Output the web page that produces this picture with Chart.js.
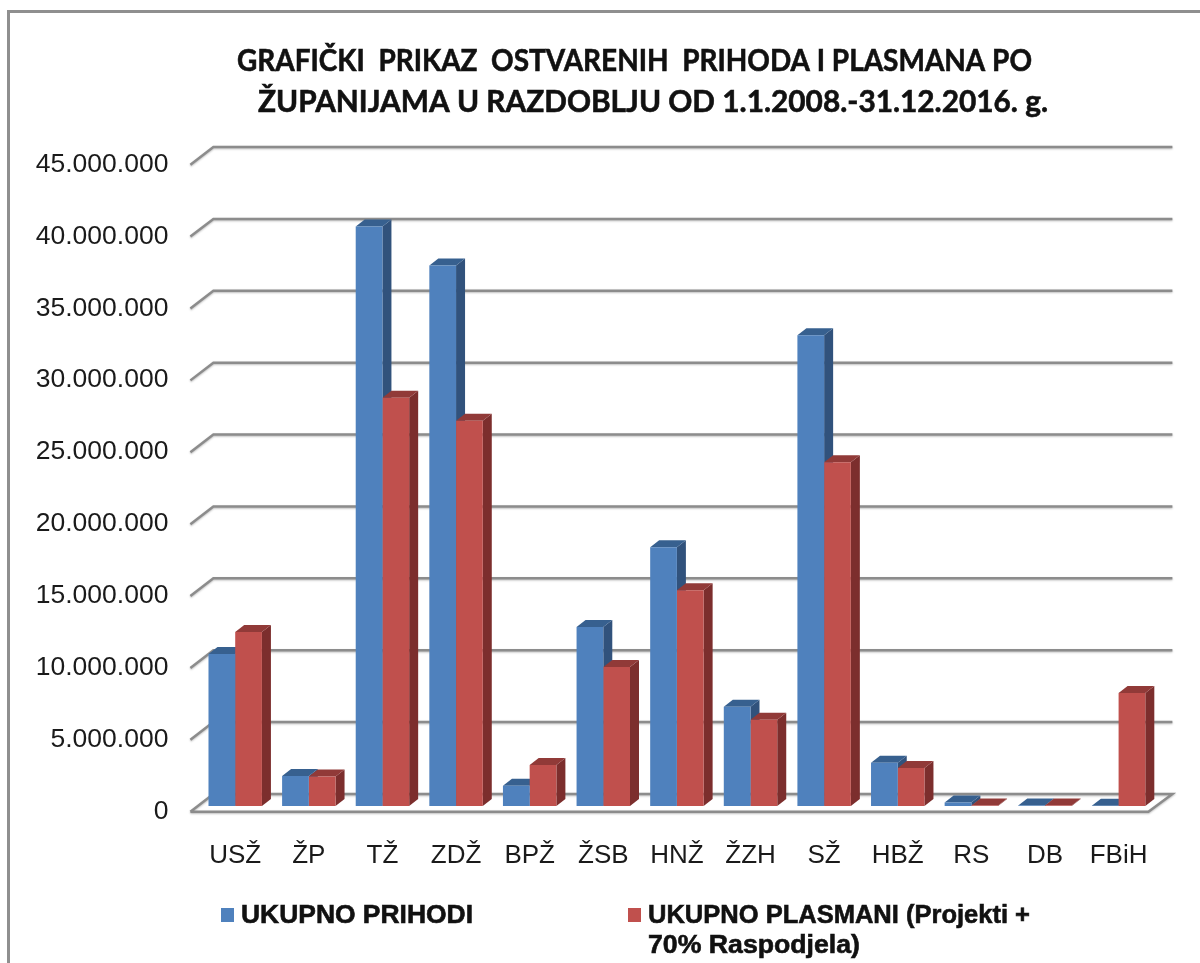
<!DOCTYPE html>
<html>
<head>
<meta charset="utf-8">
<script src="https://cdn.jsdelivr.net/npm/chart.js"></script>
<style>
    html, body { margin: 0; padding: 0; background: #fff; }
    canvas { display: block; }
</style>
</head>
<body>
<canvas id="myChart" width="1200" height="963"></canvas>
<script>
const categories = ['USŽ', 'ŽP', 'TŽ', 'ZDŽ', 'BPŽ', 'ŽSB', 'HNŽ', 'ŽZH', 'SŽ', 'HBŽ', 'RS', 'DB', 'FBiH'];
const prihodi = [10570000, 2090000, 40300000, 37600000, 1400000, 12450000, 18000000, 6900000, 32750000, 3000000, 250000, 30000, 20000];
const plasmani = [12100000, 2050000, 28400000, 26800000, 2850000, 9670000, 15000000, 6000000, 23900000, 2650000, 30000, 30000, 7860000];
const titleLines = ['GRAFIČKI  PRIKAZ  OSTVARENIH  PRIHODA I PLASMANA PO', 'ŽUPANIJAMA U RAZDOBLJU OD 1.1.2008.-31.12.2016. g.'];
const legendPrihodi = ['UKUPNO PRIHODI'];
const legendPlasmani = ['UKUPNO PLASMANI (Projekti +', '70% Raspodjela)'];

const BAR_DX = 9, BAR_DY = 7;

// okvir, naslov i legenda
const decorPlugin = {
    id: 'decor',
    beforeDraw(chart) {
        const ctx = chart.ctx;
        ctx.save();
        ctx.strokeStyle = '#8f8f8f';
        ctx.lineWidth = 3;
        ctx.beginPath();
        ctx.moveTo(8.5, 963);
        ctx.lineTo(8.5, 11.5);
        ctx.lineTo(1200, 11.5);
        ctx.stroke();
        ctx.restore();
    },
    afterDraw(chart) {
        const ctx = chart.ctx;
        ctx.save();
        ctx.fillStyle = '#111';
        ctx.strokeStyle = '#111';
        ctx.lineWidth = 0.6;
        ctx.textBaseline = 'middle';
        ctx.font = 'bold 31px Lato';
        fitText(ctx, titleLines[0], 237, 61, 795);
        fitText(ctx, titleLines[1], 258, 102, 790);

        ctx.font = 'bold 26px "Liberation Sans"';
        ctx.fillStyle = '#4f81bd';
        ctx.fillRect(221, 908, 13, 14);
        ctx.fillStyle = '#c0504d';
        ctx.fillRect(628, 908, 13, 14);
        ctx.fillStyle = '#111';
        fitText(ctx, legendPrihodi[0], 241, 916, 232);
        fitText(ctx, legendPlasmani[0], 648, 916, 382);
        fitText(ctx, legendPlasmani[1], 648, 946, 212);
        ctx.restore();
    }
};

function fitText(ctx, text, x, y, w) {
    const m = ctx.measureText(text).width;
    ctx.save();
    ctx.translate(x, y);
    ctx.scale(w / m, 1);
    ctx.fillText(text, 0, 0);
    ctx.strokeText(text, 0, 0);
    ctx.restore();
}

// 3D: mreža na zidu i bočne/gornje plohe stupaca
const threeDPlugin = {
    id: 'threeD',
    beforeDatasetsDraw(chart) {
        const ctx = chart.ctx;
        const y = chart.scales.y;
        const area = chart.chartArea;
        const frontL = area.left - 8, backL = frontL + 23;
        const backR = backL + 959, frontR = frontL + 958;

        ctx.save();
        ctx.strokeStyle = '#8c8c8c';
        ctx.lineWidth = 2.5;
        ctx.shadowColor = 'rgba(0,0,0,0.25)';
        ctx.shadowBlur = 2;
        ctx.shadowOffsetY = 1;
        y.ticks.forEach(t => {
            const p = y.getPixelForValue(t.value);
            ctx.beginPath();
            ctx.moveTo(frontL, p + 5.7);
            ctx.lineTo(backL, p - 12);
            ctx.lineTo(backR, p - 12);
            if (t.value === 0) {
                ctx.lineTo(frontR, p + 5.7);
                ctx.lineTo(frontL, p + 5.7);
            }
            ctx.stroke();
        });
        ctx.restore();

        const faces = [['#31527c', '#37608f'], ['#7c2e2d', '#913a38']];
        chart.getSortedVisibleDatasetMetas().forEach((meta, i) => {
            meta.data.forEach(bar => {
                const r = bar.x + bar.width / 2, l = bar.x - bar.width / 2;
                ctx.fillStyle = faces[i][0];
                ctx.beginPath();
                ctx.moveTo(r, bar.base);
                ctx.lineTo(r + BAR_DX, bar.base - BAR_DY);
                ctx.lineTo(r + BAR_DX, bar.y - BAR_DY);
                ctx.lineTo(r, bar.y);
                ctx.closePath();
                ctx.fill();
                ctx.fillStyle = faces[i][1];
                ctx.beginPath();
                ctx.moveTo(l, bar.y);
                ctx.lineTo(l + BAR_DX, bar.y - BAR_DY);
                ctx.lineTo(r + BAR_DX, bar.y - BAR_DY);
                ctx.lineTo(r, bar.y);
                ctx.closePath();
                ctx.fill();
            });
        });
    }
};

const chart = new Chart(document.getElementById('myChart').getContext('2d'), {
    type: 'bar',
    data: {
        labels: categories,
        datasets: [
            { label: legendPrihodi.join(' '), data: prihodi, backgroundColor: '#4f81bd', barPercentage: 1, categoryPercentage: 0.726 },
            { label: legendPlasmani.join(' '), data: plasmani, backgroundColor: '#c0504d', barPercentage: 1, categoryPercentage: 0.726 }
        ]
    },
    plugins: [decorPlugin, threeDPlugin],
    options: {
        responsive: false,
        animation: false,
        layout: { padding: { left: 0, right: 44.6, top: 159, bottom: 0 } },
        plugins: { legend: { display: false }, title: { display: false }, tooltip: { enabled: false } },
        scales: {
            x: {
                grid: { display: false },
                border: { display: false },
                afterFit: s => { s.height = 157; },
                ticks: { autoSkip: false, maxRotation: 0, padding: 26, color: '#1a1a1a', font: { family: '"Liberation Sans"', size: 26 } }
            },
            y: {
                min: 0,
                max: 45000000,
                grid: { display: false },
                border: { display: false },
                afterFit: s => { s.width = 198.4; },
                ticks: {
                    stepSize: 5000000,
                    padding: 22,
                    labelOffset: 5.5,
                    color: '#1a1a1a',
                    font: { family: '"Liberation Sans"', size: 26.5 },
                    callback: v => String(v).replace(/\B(?=(\d{3})+$)/g, '.')
                }
            }
        }
    }
});
</script>
</body>
</html>
